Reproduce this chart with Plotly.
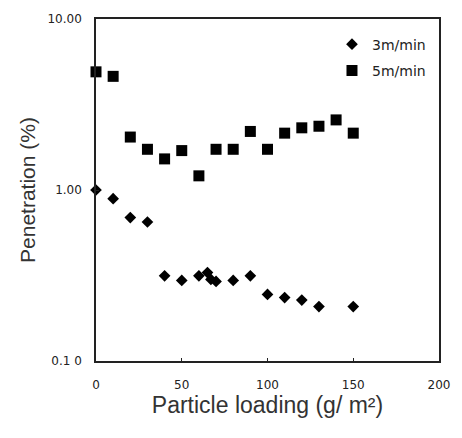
import plotly.graph_objects as go

x3 = [0, 10, 20, 30, 40, 50, 60, 65, 67, 70, 80, 90, 100, 110, 120, 130, 150]
y3 = [1.0, 0.89, 0.69, 0.65, 0.315, 0.296, 0.315, 0.329, 0.30, 0.292, 0.296, 0.315, 0.245, 0.235, 0.227, 0.208, 0.208]

x5 = [0, 10, 20, 30, 40, 50, 60, 70, 80, 90, 100, 110, 120, 130, 140, 150]
y5 = [4.91, 4.62, 2.04, 1.73, 1.52, 1.70, 1.21, 1.73, 1.73, 2.20, 1.73, 2.15, 2.31, 2.36, 2.57, 2.15]

xticks = [0, 50, 100, 150, 200]
yticks = [0.1, 1, 10]
yticktext = ["0.1 0", "1.00", "10.00"]

fig = go.Figure()
fig.add_trace(go.Scatter(x=x3, y=y3, mode="markers", name="3m/min", legendgroup="a",
                         marker=dict(symbol="diamond", size=9, color="black"),
                         cliponaxis=False))
fig.add_trace(go.Scatter(x=x5, y=y5, mode="markers", name="5m/min", legendgroup="b",
                         marker=dict(symbol="square", size=11, color="black"),
                         cliponaxis=False))

tickfont = dict(family="DejaVu Sans", size=12, color="#222")

fig.update_layout(
    width=462, height=438,
    margin=dict(l=96, r=20, t=13, b=77),
    plot_bgcolor="white", paper_bgcolor="white",
    font=dict(family="Liberation Sans, Arial", color="black"),
    showlegend=True,
    legend=dict(x=0.688, y=0.972, xanchor="left", yanchor="top",
                bgcolor="rgba(0,0,0,0)", font=dict(family="DejaVu Sans", size=14, color="#222"),
                tracegroupgap=5),
    xaxis=dict(range=[0, 200], tickvals=xticks, ticktext=[str(v) for v in xticks],
               showgrid=False, zeroline=False, showline=True, linecolor="#222",
               linewidth=1.5, mirror=True, ticks="inside", ticklen=3,
               tickcolor="#222", tickfont=tickfont, ticklabelstandoff=12,
               title=dict(text="Particle loading (g/ m²)", font=dict(size=23, color="#333"),
                          standoff=4)),
    yaxis=dict(type="log", range=[-1, 1], tickvals=yticks, ticktext=yticktext,
               showgrid=False, zeroline=False, showline=True, linecolor="#222",
               linewidth=1.5, mirror=True, ticks="inside", ticklen=3,
               tickcolor="#222", tickfont=tickfont, ticklabelstandoff=10,
               title=dict(text="Penetration (%)", font=dict(size=21, color="#333"),
                          standoff=6)),
)

fig.write_html("out.html")
